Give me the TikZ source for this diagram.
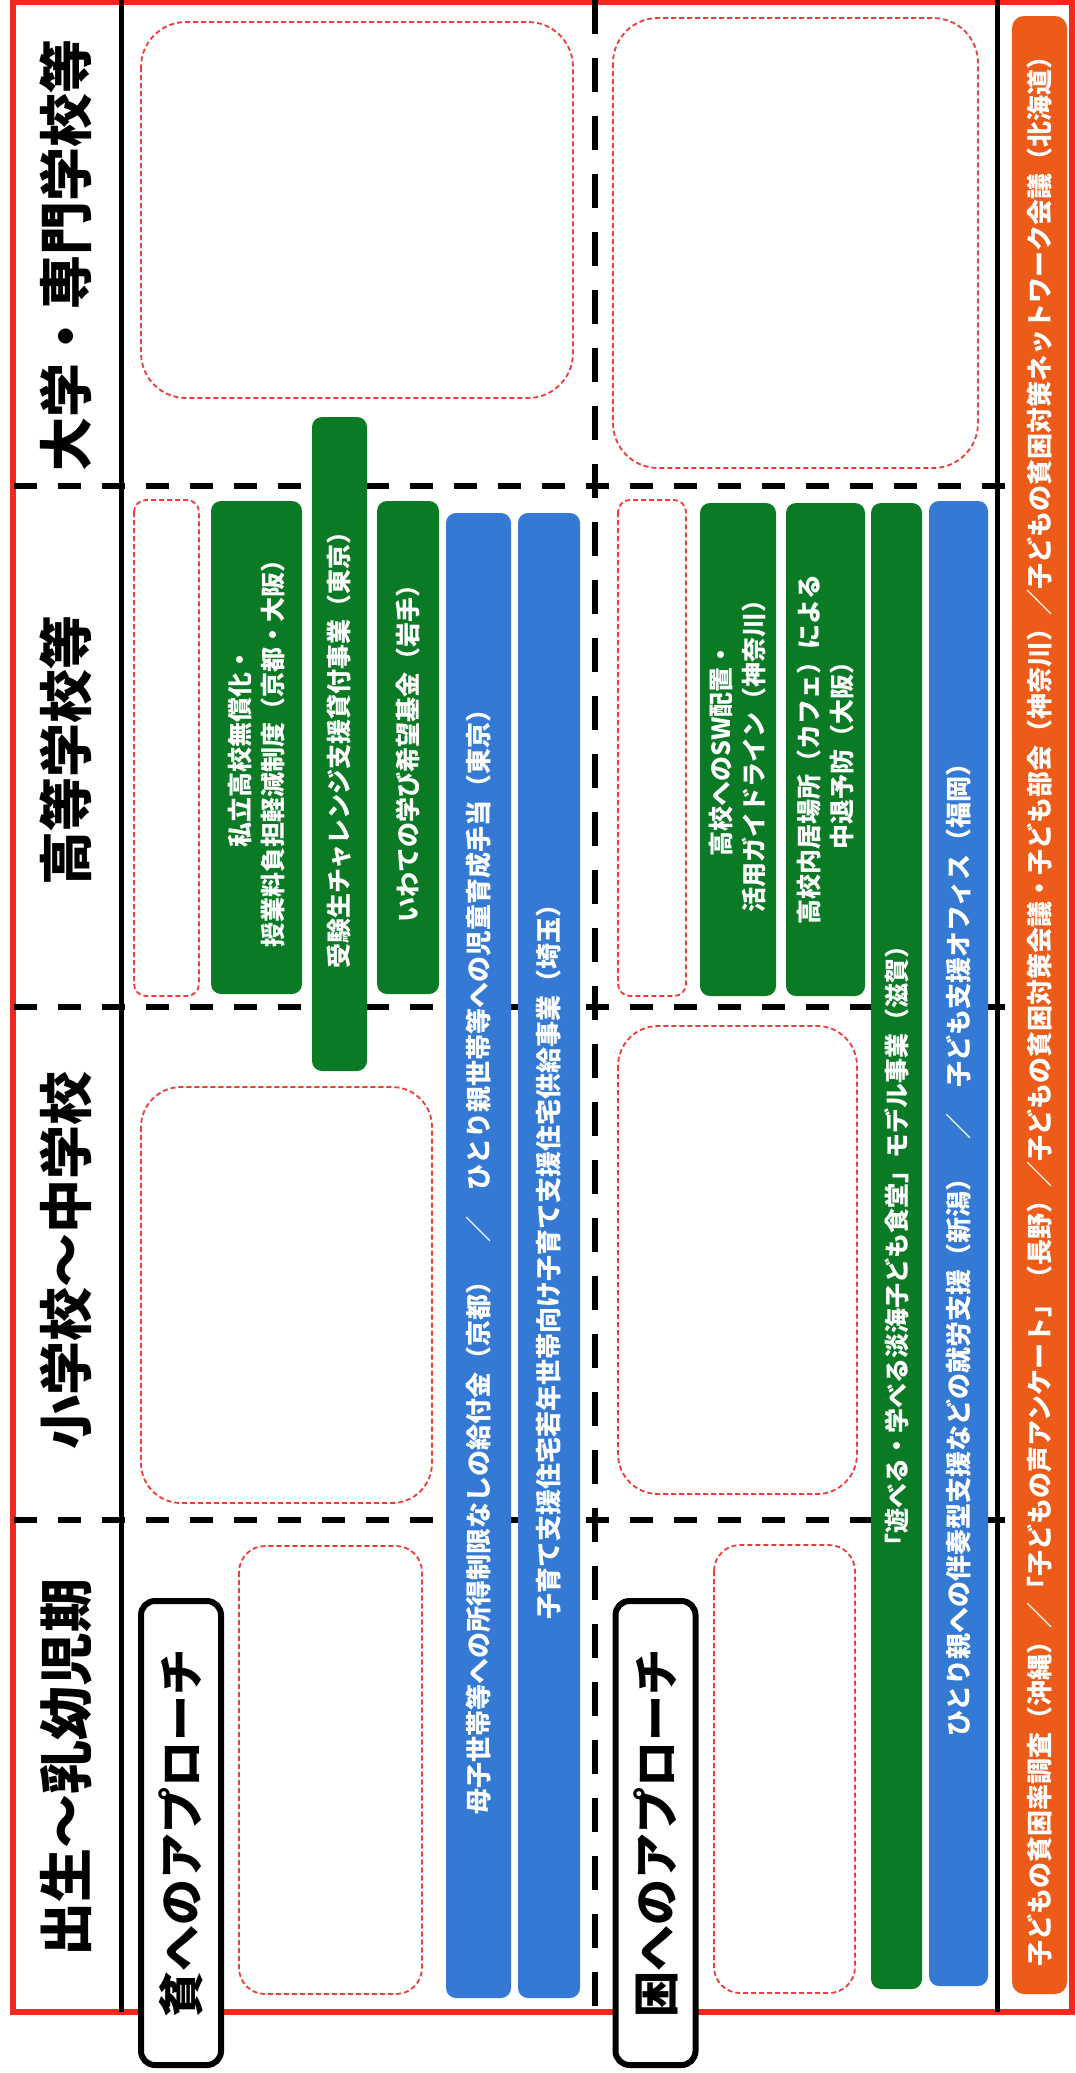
\documentclass[tikz,border=0pt]{standalone}
\usepackage{fontspec}
\setmainfont{Noto Sans CJK JP}
\definecolor{gr}{RGB}{10,122,36}
\definecolor{bl}{RGB}{52,122,212}
\definecolor{orng}{RGB}{236,92,24}
\definecolor{redb}{RGB}{246,40,30}
\definecolor{reddash}{RGB}{240,60,55}
\tikzset{
  colbox/.style={rectangle, rounded corners=10pt, draw=none, text=white, align=center, rotate=90, inner sep=0pt, font=\bfseries\fontsize{25}{33}\selectfont},
  gbox/.style={colbox, fill=gr},
  bbox/.style={colbox, fill=bl, font=\bfseries\fontsize{26}{33}\selectfont},
  obox/.style={colbox, fill=orng, rounded corners=12pt, font=\bfseries\fontsize{26}{33}\selectfont},
  placeholder/.style={draw=reddash, line width=1.8pt, dash pattern=on 5pt off 3pt},
  header/.style={rotate=90, inner sep=0pt, font=\bfseries\fontsize{54}{60}\selectfont},
  approach/.style={rectangle, rotate=90, draw=black, line width=6pt, fill=white, rounded corners=14pt, inner sep=0pt, font=\bfseries\fontsize{46}{50}\selectfont},
  solidline/.style={draw=black, line width=5pt},
  vdash/.style={draw=black, line width=6pt, dash pattern=on 34pt off 24pt},
  hdash/.style={draw=black, line width=6pt, dash pattern=on 23pt off 21pt},
}
\begin{document}
\begin{tikzpicture}[x=1pt,y=-1pt]
\useasboundingbox[fill=white] (0,0) rectangle (1076,2073);
% frame
\draw[draw=redb, line width=6pt] (13,2) rectangle (1072,2012);
% dividers
\coordinate (l1t) at (121,0); \coordinate (l1b) at (121,2012);
\coordinate (l2t) at (997,0); \coordinate (l2b) at (997,2012);
\coordinate (vt) at (595,0); \coordinate (vb) at (595,2012);
\draw[solidline] (l1t) -- (l1b);
\draw[solidline] (l2t) -- (l2b);
\draw[vdash] (vt) -- (vb);
\foreach \yy in {486,1007,1520}{
  \draw[hdash] (14,\yy) -- (1010,\yy);
}
% headers
\node[header] (h1) at (66,255) {大学・専門学校等};
\node[header] (h2) at (66,750) {高等学校等};
\node[header] (h3) at (66,1260) {小学校～中学校};
\node[header] (h4) at (66,1767) {出生～乳幼児期};
% placeholders
\draw[placeholder, rounded corners=45pt] (141,22) rectangle (573,398);
\draw[placeholder, rounded corners=45pt] (613,18) rectangle (978,468);
\draw[placeholder, rounded corners=12pt] (134,500) rectangle (199,996);
\draw[placeholder, rounded corners=12pt] (618,500) rectangle (686,996);
\draw[placeholder, rounded corners=40pt] (141,1087) rectangle (432,1503);
\draw[placeholder, rounded corners=40pt] (618,1026) rectangle (857,1494);
\draw[placeholder, rounded corners=26pt] (239,1546) rectangle (422,1994);
\draw[placeholder, rounded corners=26pt] (714,1545) rectangle (855,1993);
% poverty boxes
\node[gbox, minimum width=493pt, minimum height=91pt] (g1) at (256.5,747.5) {私立高校無償化・\\授業料負担軽減制度（京都・大阪）};
\node[gbox, minimum width=654pt, minimum height=55pt] (g2) at (339.5,744) {受験生チャレンジ支援貸付事業（東京）};
\node[gbox, minimum width=493pt, minimum height=62pt] (g3) at (408,747.5) {いわての学び希望基金（岩手）};
\node[bbox, minimum width=1485pt, minimum height=65pt] (b1) at (478.5,1255.5) {母子世帯等への所得制限なしの給付金（京都）　／　ひとり親世帯等への児童育成手当（東京）};
\node[bbox, minimum width=1485pt, minimum height=62pt] (b2) at (549,1255.5) {子育て支援住宅若年世帯向け子育て支援住宅供給事業（埼玉）};
% hardship boxes
\node[gbox, minimum width=493pt, minimum height=76pt] (g4) at (738,749.5) {高校へのSW配置・\\活用ガイドライン（神奈川）};
\node[gbox, minimum width=493pt, minimum height=79pt] (g5) at (825.5,749.5) {高校内居場所（カフェ）による\\中退予防（大阪）};
\node[gbox, minimum width=1486pt, minimum height=51pt] (g6) at (896.5,1246) {「遊べる・学べる淡海子ども食堂」モデル事業（滋賀）};
\node[bbox, minimum width=1485pt, minimum height=59pt] (b3) at (958.5,1243.5) {ひとり親への伴奏型支援などの就労支援（新潟）　／　子ども支援オフィス（福岡）};
% orange bar
\node[obox, minimum width=1978pt, minimum height=55pt] (o1) at (1039.5,1005) {子どもの貧困率調査（沖縄）／「子どもの声アンケート」（長野）／子どもの貧困対策会議・子ども部会（神奈川）／子どもの貧困対策ネットワーク会議（北海道）};
% approach labels
\node[approach, minimum width=464pt, minimum height=80pt] (a1) at (181,1833) {貧へのアプローチ};
\node[approach, minimum width=464pt, minimum height=80pt] (a2) at (655.5,1833) {困へのアプローチ};
\end{tikzpicture}
\end{document}
